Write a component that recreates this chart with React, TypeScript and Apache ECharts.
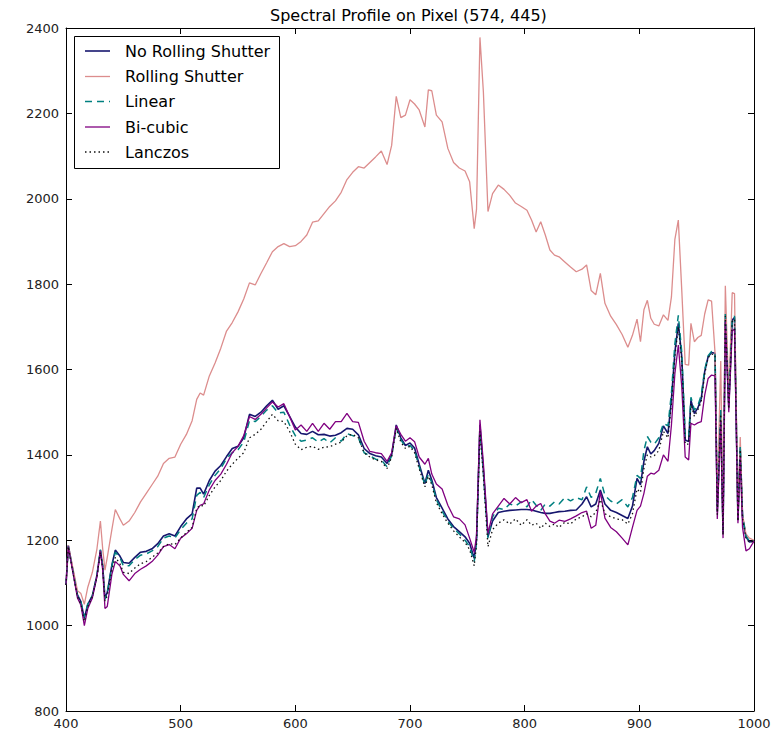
import React, { useEffect, useRef } from "react";
import * as echarts from "echarts";

const wavelengths = [
  400, 402, 406, 410, 413, 416, 419, 423, 427, 430,
  432, 434, 436, 440, 443, 447, 450, 455, 460, 465,
  470, 475, 480, 485, 490, 495, 500, 505, 510, 514,
  517, 520, 525, 530, 535, 540, 545, 550, 555, 560,
  565, 570, 575, 580, 585, 590, 595, 600, 605, 610,
  615, 620, 625, 630, 635, 640, 645, 650, 655, 660,
  665, 670, 675, 680, 684, 688, 692, 696, 700, 704,
  708, 713, 716, 719, 723, 728, 733, 738, 743, 748,
  752, 756, 758, 761, 764, 768, 772, 777, 782, 787,
  792, 797, 802, 806, 810, 814, 818, 822, 826, 830,
  835, 840, 845, 850, 854, 858, 862, 866, 870, 875,
  880, 885, 890, 894, 898, 901, 904, 907, 910, 913,
  917, 921, 925, 928, 931, 934, 937, 940, 943, 945,
  948, 951, 954, 957, 960, 963, 966, 968, 971, 973,
  975, 978, 981, 983, 986, 988, 990, 993, 996, 1000,
];

const noRollingShutter = [
  1095, 1188, 1130, 1072, 1056, 1017, 1050, 1070, 1118, 1177,
  1140, 1064, 1078, 1142, 1177, 1163, 1148, 1146, 1160, 1172,
  1174, 1180, 1192, 1210, 1215, 1210, 1232, 1250, 1262, 1322,
  1322, 1308, 1340, 1362, 1375, 1396, 1415, 1420, 1440, 1495,
  1490, 1500, 1515, 1528, 1507, 1515, 1490, 1465, 1450, 1448,
  1455, 1447, 1448, 1444, 1446, 1452, 1462, 1460, 1447, 1415,
  1403, 1398, 1395, 1380, 1400, 1470, 1440, 1422, 1428, 1416,
  1378, 1333, 1364, 1341, 1300, 1275, 1250, 1232, 1220, 1208,
  1193, 1158, 1200, 1470, 1364, 1208, 1245, 1265, 1268, 1270,
  1271, 1272, 1272, 1271, 1268, 1265, 1263, 1263, 1265, 1267,
  1268, 1270, 1271, 1285, 1302, 1278, 1285, 1318, 1285, 1270,
  1265, 1258, 1251, 1280, 1345, 1330, 1385, 1419, 1402, 1410,
  1427, 1468, 1450, 1530, 1640, 1708, 1630, 1435, 1431, 1528,
  1497, 1510, 1532, 1595, 1630, 1640, 1638, 1267, 1500, 1216,
  1725, 1513, 1716, 1722, 1247, 1415, 1255, 1208, 1196, 1198,
];

const rollingShutter = [
  1095, 1188, 1135, 1082, 1075, 1050, 1090, 1125, 1180, 1245,
  1180, 1130, 1160, 1225, 1272, 1250, 1235, 1245, 1265, 1290,
  1310, 1330, 1350, 1380, 1392, 1395, 1425, 1448, 1480, 1530,
  1545, 1540, 1585, 1615, 1650, 1690, 1710, 1735, 1765, 1803,
  1798, 1825, 1850, 1876, 1888, 1895, 1888, 1890, 1900, 1915,
  1945, 1948, 1965, 1982, 1995, 2015, 2045, 2062, 2075, 2072,
  2085, 2098, 2112, 2080, 2125, 2240, 2190, 2196, 2232, 2222,
  2208, 2168, 2255, 2253, 2196, 2180, 2118, 2085, 2072, 2065,
  2040, 1930, 1975, 2378, 2250, 1970, 2012, 2032, 2022, 2008,
  1990, 1982, 1973, 1950, 1922, 1946, 1915, 1880, 1868, 1864,
  1852, 1840, 1829, 1835, 1845, 1785, 1775, 1825, 1755, 1725,
  1705, 1682, 1652, 1680, 1718, 1665, 1740, 1762, 1720, 1706,
  1702, 1728, 1715, 1770, 1905, 1950, 1786, 1612, 1610, 1708,
  1665, 1675, 1680, 1730, 1763, 1760, 1640, 1300, 1620, 1240,
  1796, 1540, 1780, 1778, 1262, 1442, 1260, 1215, 1205, 1200,
];

const linear = [
  1095, 1186, 1128, 1070, 1055, 1020, 1050, 1070, 1118, 1178,
  1140, 1062, 1075, 1140, 1172, 1160, 1140, 1140, 1155, 1165,
  1168, 1175, 1185, 1205, 1210, 1205, 1225, 1240, 1250, 1305,
  1312, 1300, 1330, 1352, 1368, 1392, 1405, 1412, 1430, 1480,
  1478, 1490, 1505, 1515, 1498, 1500, 1470, 1445, 1432, 1435,
  1440, 1430, 1438, 1428, 1440, 1432, 1450, 1445, 1440, 1405,
  1398, 1390, 1388, 1372, 1398, 1465, 1435, 1420, 1422, 1410,
  1372, 1330, 1355, 1335, 1295, 1268, 1245, 1228, 1215, 1200,
  1185, 1150, 1195, 1465, 1360, 1205, 1255, 1275, 1272, 1285,
  1280, 1290, 1278, 1295, 1282, 1270, 1285, 1280, 1290, 1285,
  1300, 1292, 1300, 1295, 1325, 1300, 1310, 1345, 1305, 1292,
  1285, 1295, 1278, 1300, 1352, 1345, 1410, 1443, 1430, 1425,
  1440, 1474, 1468, 1545, 1660, 1727, 1640, 1445, 1440, 1535,
  1505, 1515, 1540, 1600, 1632, 1642, 1640, 1275, 1505, 1222,
  1730, 1520, 1722, 1725, 1255, 1420, 1258, 1210, 1198, 1198,
];

const bicubic = [
  1095, 1185, 1125, 1065, 1048, 1000, 1040, 1065, 1115, 1175,
  1130, 1040, 1045, 1120, 1150, 1140, 1120, 1105, 1122, 1132,
  1140, 1150, 1165, 1185, 1190, 1180, 1205, 1215, 1228, 1270,
  1282, 1285, 1318, 1340, 1355, 1378, 1405, 1420, 1445, 1490,
  1483, 1495, 1510, 1524, 1512, 1520, 1490, 1458, 1470, 1455,
  1474, 1455, 1474, 1460, 1478, 1478, 1497, 1478, 1476, 1432,
  1408, 1405, 1403, 1385, 1405, 1468, 1448, 1432, 1440, 1431,
  1395, 1378, 1392, 1355, 1332, 1320, 1282, 1255, 1250, 1236,
  1205, 1172, 1210, 1482, 1380, 1216, 1262, 1280, 1298, 1285,
  1300, 1288, 1295, 1268, 1280, 1286, 1262, 1245, 1240, 1247,
  1244, 1250, 1257, 1265, 1268, 1228, 1235, 1314, 1252, 1230,
  1220, 1205, 1189, 1230, 1270, 1280, 1310, 1350, 1357, 1355,
  1364, 1400, 1385, 1470, 1590, 1657, 1560, 1395, 1388, 1474,
  1470, 1475, 1478, 1540, 1579, 1587, 1585, 1250, 1480, 1205,
  1712, 1500, 1690, 1695, 1240, 1395, 1230, 1175, 1180, 1198,
];

const lanczos = [
  1095, 1185, 1125, 1068, 1050, 1010, 1045, 1068, 1115, 1172,
  1135, 1058, 1070, 1130, 1160, 1145, 1125, 1122, 1135, 1145,
  1150, 1160, 1170, 1185, 1192, 1190, 1205, 1218, 1230, 1275,
  1282, 1280, 1305, 1325, 1340, 1362, 1378, 1392, 1405, 1440,
  1448, 1460, 1478, 1495, 1480, 1478, 1455, 1425, 1412, 1418,
  1420, 1413, 1418, 1419, 1425, 1430, 1445, 1448, 1440, 1405,
  1395, 1388, 1385, 1368, 1395, 1462, 1430, 1415, 1420, 1405,
  1368, 1325, 1350, 1330, 1288, 1262, 1240, 1222, 1208, 1195,
  1178, 1140, 1190, 1455, 1350, 1185, 1225, 1240, 1248, 1238,
  1250, 1235, 1248, 1235, 1240, 1228, 1240, 1232, 1238, 1230,
  1242, 1238, 1250, 1255, 1262, 1255, 1265, 1295, 1262, 1255,
  1250, 1248, 1238, 1262, 1320, 1312, 1368, 1400, 1395, 1398,
  1410, 1455, 1440, 1520, 1630, 1700, 1620, 1425, 1425, 1520,
  1490, 1505, 1525, 1590, 1628, 1636, 1635, 1260, 1495, 1212,
  1725, 1508, 1712, 1718, 1245, 1412, 1252, 1205, 1195, 1198,
];

const seriesNames = ["No Rolling Shutter", "Rolling Shutter", "Linear", "Bi-cubic", "Lanczos"];
const titleText = "Spectral Profile on Pixel (574, 445)";

const FONT = "'DejaVu Sans', sans-serif";

export default function App() {
  const ref = useRef<HTMLDivElement>(null);
  useEffect(() => {
    const chart = echarts.init(ref.current!, null, { renderer: "svg" });
    const pair = (ys: number[]) => wavelengths.map((w, i) => [w, ys[i]]);
    const styles = [
      { color: "#16166e", width: 1.6, type: "solid" as any, data: noRollingShutter },
      { color: "#dc8d8d", width: 1.3, type: "solid" as any, data: rollingShutter },
      { color: "#008080", width: 1.5, type: [7, 5] as any, data: linear },
      { color: "#800080", width: 1.3, type: "solid" as any, data: bicubic },
      { color: "#111111", width: 1.3, type: [1.5, 3] as any, data: lanczos },
    ];
    const axisCommon = {
      type: "value",
      axisLine: { show: true, onZero: false, lineStyle: { color: "#000", width: 1 } },
      axisTick: { show: true, inside: true, length: 6, lineStyle: { color: "#000", width: 1 } },
      splitLine: { show: false },
    };
    const plain = (v: number) => String(v);
    const labelStyle = { color: "#222", fontSize: 13, fontFamily: FONT, formatter: plain };
    const rowY = [51, 76.5, 101.5, 127, 152];
    const legendGraphics: any[] = [
      {
        type: "rect",
        shape: { x: 74.5, y: 36.5, width: 205, height: 132 },
        style: { fill: "#fff", stroke: "#000", lineWidth: 1 },
        z: 100,
      },
    ];
    styles.forEach((s, i) => {
      legendGraphics.push({
        type: "line",
        shape: { x1: 85, y1: rowY[i], x2: 110, y2: rowY[i] },
        style: {
          stroke: s.color,
          lineWidth: s.width,
          lineDash: Array.isArray(s.type) ? s.type : null,
        },
        z: 101,
      });
      legendGraphics.push({
        type: "text",
        x: 125,
        y: rowY[i],
        style: {
          text: seriesNames[i],
          fontSize: 16,
          fontFamily: FONT,
          fill: "#000",
          verticalAlign: "middle",
        },
        z: 101,
      });
    });
    chart.setOption({
      animation: false,
      title: {
        text: titleText,
        left: 270,
        top: 7,
        padding: 0,
        textStyle: { fontSize: 16, fontWeight: "normal", color: "#000", fontFamily: FONT },
      },
      grid: { left: 66, right: 28, top: 28, bottom: 25, containLabel: false },
      xAxis: [
        {
          ...axisCommon,
          position: "bottom",
          min: 400,
          max: 1000,
          interval: 100,
          axisLabel: { ...labelStyle, margin: 6 },
        },
        {
          ...axisCommon,
          position: "top",
          min: 400,
          max: 1000,
          interval: 100,
          axisLabel: { show: false },
        },
      ],
      yAxis: [
        {
          ...axisCommon,
          position: "left",
          min: 800,
          max: 2400,
          interval: 200,
          axisLabel: { ...labelStyle, margin: 7 },
        },
        {
          ...axisCommon,
          position: "right",
          min: 800,
          max: 2400,
          interval: 200,
          axisLabel: { show: false },
        },
      ],
      series: styles.map((s, i) => ({
        type: "line",
        name: seriesNames[i],
        data: pair(s.data),
        xAxisIndex: 0,
        yAxisIndex: 0,
        showSymbol: false,
        symbol: "none",
        lineStyle: { color: s.color, width: s.width, type: s.type },
        z: 2 + i,
        silent: true,
      })),
      graphic: legendGraphics,
    });
    return () => chart.dispose();
  }, []);
  return (
    <div
      ref={ref}
      style={{ position: "fixed", left: 0, top: 0, width: 782, height: 736, background: "#fff" }}
    />
  );
}
